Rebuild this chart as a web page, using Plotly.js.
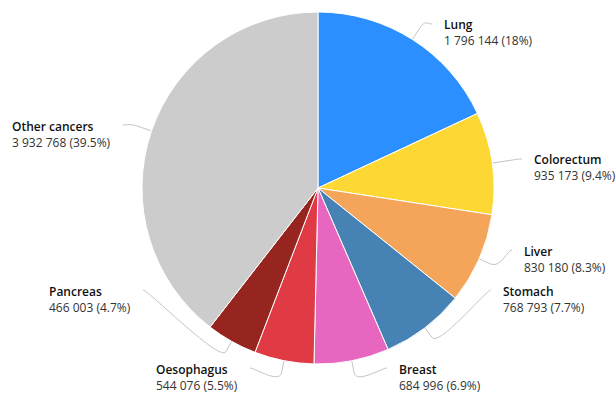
<!DOCTYPE html>
<html>
<head>
<meta charset="utf-8">
<script src="https://cdn.plot.ly/plotly-3.0.1.min.js"></script>
<style>
  html, body { margin: 0; padding: 0; background: #fff; }
  #chart { width: 616px; height: 394px; }
</style>
</head>
<body>
<div id="chart"></div>
<script>
// ---- data ----
const categories = ['Lung', 'Colorectum', 'Liver', 'Stomach', 'Breast', 'Oesophagus', 'Pancreas', 'Other cancers'];
const cases = [1796144, 935173, 830180, 768793, 684996, 544076, 466003, 3932768];
const sliceColors = ['#2b8fff', '#fdd835', '#f4a55a', '#4682b4', '#e766bf', '#e03b44', '#96241f', '#cccccc'];

// ---- layout constants (pixels) ----
const W = 616, H = 394;
const CX = 318, CY = 188, R = 176;
// where each label's connector ends (label side) and which side the label sits on
const labelEnds = [[432, 24], [522, 159], [512, 250], [491, 290], [387, 368], [250, 368], [143, 290], [123, 125]];
const labelSide = ['right', 'right', 'right', 'right', 'right', 'left', 'left', 'left'];
const FONT = 'Open Sans, Noto Sans, sans-serif';

const px = x => x / W;
const py = y => 1 - y / H;

const total = cases.reduce((a, b) => a + b, 0);
function fmtNum(v) { return String(v).replace(/\B(?=(\d{3})+(?!\d))/g, ' '); }
function fmtPct(v) { let s = (v / total * 100).toFixed(1); if (s.endsWith('.0')) s = s.slice(0, -2); return s + '%'; }

const annotations = [];
const shapes = [];
let cum = 0;
cases.forEach((v, i) => {
  const mid = (cum + v / 2) / total * 2 * Math.PI; // clockwise from 12 o'clock
  cum += v;
  const sx = Math.sin(mid), cyv = -Math.cos(mid);
  const touch = [CX + R * sx, CY + R * cyv];
  const brk = [CX + (R + 12) * sx, CY + (R + 12) * cyv];
  const end = labelEnds[i];
  const right = labelSide[i] === 'right';
  const c1 = [end[0] + (right ? -5 : 5), end[1]];
  const c2 = [2 * brk[0] - touch[0], 2 * brk[1] - touch[1]];
  const path = 'M' + px(end[0]) + ',' + py(end[1]) +
    ' C' + px(c1[0]) + ',' + py(c1[1]) + ' ' + px(c2[0]) + ',' + py(c2[1]) + ' ' + px(brk[0]) + ',' + py(brk[1]) +
    ' L' + px(touch[0]) + ',' + py(touch[1]);
  shapes.push({ type: 'path', xref: 'paper', yref: 'paper', path: path, line: { color: '#c4c4c4', width: 1 }, layer: 'below' });
  annotations.push({
    xref: 'paper', yref: 'paper',
    x: px(end[0] + (right ? 10 : -10)), y: py(end[1] + 9),
    xanchor: right ? 'left' : 'right', yanchor: 'middle', align: 'left',
    showarrow: false,
    text: '<span style="font-weight:600;fill:#111">' + categories[i] + '</span><br>' + fmtNum(v) + ' (' + fmtPct(v) + ')',
    font: { family: FONT, size: 12, color: '#333' }
  });
});

const trace = {
  type: 'pie',
  labels: categories,
  values: cases,
  sort: false,
  direction: 'clockwise',
  rotation: 0,
  textinfo: 'none',
  hoverinfo: 'none',
  marker: { colors: sliceColors, line: { color: '#ffffff', width: 1 } },
  domain: { x: [px(CX - R), px(CX + R)], y: [py(CY + R), py(CY - R)] }
};

const layout = {
  width: W, height: H,
  margin: { l: 0, r: 0, t: 0, b: 0 },
  paper_bgcolor: '#ffffff',
  showlegend: false,
  annotations: annotations,
  shapes: shapes,
  font: { family: FONT }
};

Plotly.newPlot('chart', [trace], layout, { displayModeBar: false, staticPlot: true });
</script>
</body>
</html>
